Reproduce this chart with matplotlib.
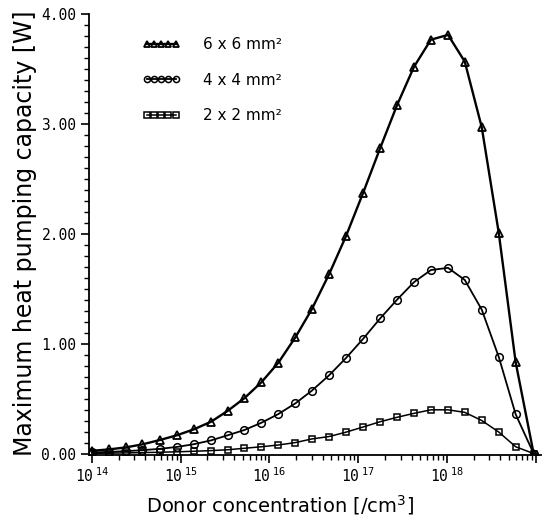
import matplotlib
matplotlib.use("Agg")
import matplotlib.pyplot as plt
from matplotlib.ticker import FixedLocator, MultipleLocator, NullFormatter

# Donor concentration [/cm^3] at each plotted point
donor_conc = [1.0e14, 1.55e14, 2.4e14, 3.7e14, 5.8e14, 9.0e14, 1.4e15, 2.2e15,
              3.4e15, 5.2e15, 8.1e15, 1.26e16, 1.96e16, 3.0e16, 4.7e16, 7.3e16,
              1.14e17, 1.77e17, 2.74e17, 4.26e17, 6.6e17, 1.03e18, 1.59e18,
              2.47e18, 3.84e18, 5.96e18, 9.5e18]

# Maximum heat pumping capacity [W]
cap_6x6 = [0.025, 0.038, 0.056, 0.084, 0.123, 0.166, 0.22, 0.29, 0.39, 0.503,
           0.648, 0.827, 1.058, 1.313, 1.632, 1.98, 2.375, 2.78, 3.17, 3.52,
           3.766, 3.81, 3.567, 2.97, 2.01, 0.83, 0.0]
cap_4x4 = [0.01, 0.015, 0.022, 0.031, 0.043, 0.06, 0.085, 0.12, 0.167, 0.214,
           0.28, 0.36, 0.457, 0.572, 0.712, 0.87, 1.045, 1.23, 1.40, 1.56,
           1.67, 1.69, 1.58, 1.31, 0.88, 0.357, 0.0]
cap_2x2 = [0.003, 0.004, 0.006, 0.009, 0.012, 0.016, 0.021, 0.027, 0.035,
           0.048, 0.062, 0.078, 0.10, 0.133, 0.155, 0.195, 0.242, 0.29, 0.33,
           0.366, 0.398, 0.398, 0.375, 0.301, 0.196, 0.062, 0.0]

series_labels = ["6 x 6 mm²", "4 x 4 mm²", "2 x 2 mm²"]
decade_exps = [14, 15, 16, 17, 18, 19]
decade_labels = [r"$\mathtt{10}^{\;\mathtt{%d}}$" % e
                 for e in decade_exps[:-1]] + [""]

W, H = 543, 527
fig = plt.figure(figsize=(W / 100, H / 100), dpi=100)
ax = fig.add_axes([89 / W, 1 - 455 / H, (541 - 89) / W, (455 - 14) / H])

styles = [
    dict(marker="^", lw=1.7, ms=5.5, mew=1.3),
    dict(marker="o", lw=1.3, ms=5.5, mew=1.1),
    dict(marker="s", lw=1.1, ms=5, mew=1.1),
]
for y, lab, st in zip([cap_6x6, cap_4x4, cap_2x2], series_labels, styles):
    ax.plot(donor_conc, y, color="black", mfc="none", mec="black",
            label=lab, **st)

ax.set_xscale("log")
ax.set_xlim(9.25e13, 1.15e19)
ax.set_ylim(-0.013, 4.0)

ax.xaxis.set_major_locator(FixedLocator([10.0 ** e for e in decade_exps]))
ax.set_xticklabels(decade_labels)
ax.xaxis.set_minor_locator(FixedLocator(
    [m * 10.0 ** e for e in decade_exps[:-1] for m in range(2, 10)]))
ax.xaxis.set_minor_formatter(NullFormatter())
ax.yaxis.set_major_locator(MultipleLocator(1.0))
ax.yaxis.set_minor_locator(MultipleLocator(0.1))
ax.set_yticks([0, 1, 2, 3, 4])
ax.set_yticklabels(["0.00", "1.00", "2.00", "3.00", "4.00"])

for s in ["top", "right"]:
    ax.spines[s].set_visible(False)
for s in ["left", "bottom"]:
    ax.spines[s].set_linewidth(1.3)

ax.tick_params(which="major", direction="out", length=6, width=1.2,
               labelsize=10.5, pad=2)
ax.tick_params(axis="y", which="major", pad=3)
ax.tick_params(which="minor", direction="out", length=3.5, width=1.0)
for t in ax.get_yticklabels():
    t.set_family("DejaVu Sans Mono")

fig.text(25 / W, 1 - 233 / H, "Maximum heat pumping capacity [W]",
         rotation=90, ha="center", va="center", fontsize=17, color="black")
fig.text(280 / W, 1 - 505 / H, "Donor concentration [/cm$^3$]",
         ha="center", va="center", fontsize=14, color="black")

ax.legend(loc="upper left", bbox_to_anchor=(142 / W, 1 - 37 / H),
          bbox_transform=fig.transFigure, frameon=False, numpoints=5,
          handlelength=2.5, handletextpad=1.5, labelspacing=1.35,
          borderpad=0, borderaxespad=0, markerscale=0.8, fontsize=11)

fig.savefig("out.png", dpi=100)
